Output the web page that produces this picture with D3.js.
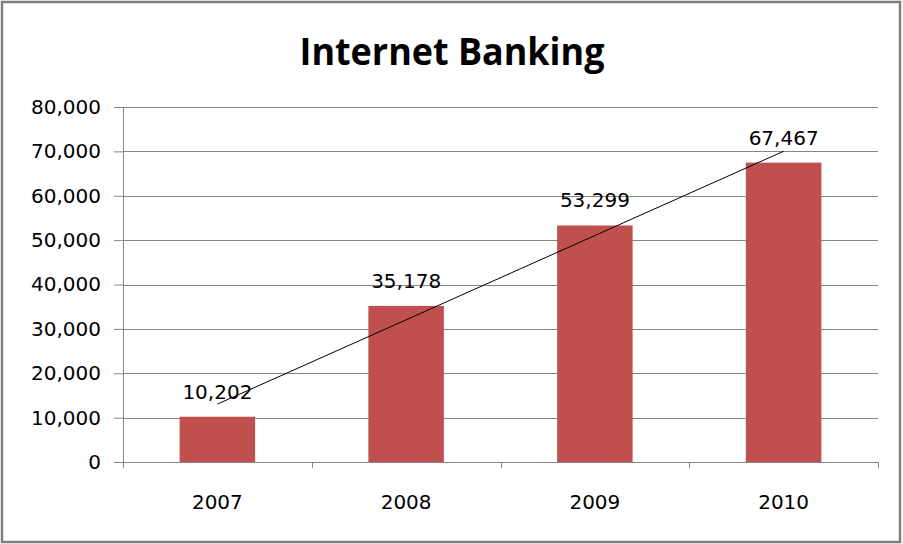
<!DOCTYPE html>
<html>
<head>
<meta charset="utf-8">
<script src="https://cdn.jsdelivr.net/npm/d3@7"></script>
<style>
  html, body { margin: 0; padding: 0; background: #fff; }
  svg { display: block; }
</style>
</head>
<body>
<div id="chart"></div>
<script>
// chart data
const years = ["2007", "2008", "2009", "2010"];
const users = [10202, 35178, 53299, 67467];
const yTicks = [0, 10000, 20000, 30000, 40000, 50000, 60000, 70000, 80000];
const chartTitle = "Internet Banking";

const width = 903, height = 544;
const margin = { top: 107, right: 25, bottom: 82, left: 123 };
const innerW = width - margin.left - margin.right;
const innerH = height - margin.top - margin.bottom;

const svg = d3.select("#chart").append("svg")
    .attr("width", width)
    .attr("height", height);

// outer frame
svg.append("rect")
    .attr("x", 2).attr("y", 2)
    .attr("width", width - 5).attr("height", height - 4)
    .attr("fill", "#fff")
    .attr("stroke", "#808080")
    .attr("stroke-width", 2.5);

svg.append("text")
    .attr("x", 452).attr("y", 65)
    .attr("text-anchor", "middle")
    .attr("textLength", 305)
    .attr("lengthAdjust", "spacingAndGlyphs")
    .style("font-family", "'Open Sans', sans-serif")
    .style("font-weight", "bold")
    .style("font-size", "38px")
    .attr("fill", "#000")
    .text(chartTitle);

const g = svg.append("g").attr("transform", `translate(${margin.left},${margin.top})`);

const x = d3.scaleBand().domain(years).range([0, innerW]).paddingInner(0.6).paddingOuter(0.3);
const xBand = d3.scaleBand().domain(years).range([0, innerW]);
const y = d3.scaleLinear().domain([0, 80000]).range([innerH, 0]);

const gridColor = "#868686";
const fmt = d3.format(",");
const labelFont = "'DejaVu Sans', Verdana, sans-serif";

// gridlines
g.append("g")
    .selectAll("line")
    .data(yTicks.filter(d => d > 0))
    .join("line")
    .attr("x1", 0).attr("x2", innerW)
    .attr("y1", d => Math.round(y(d)) + 0.5).attr("y2", d => Math.round(y(d)) + 0.5)
    .attr("stroke", gridColor);

// y axis
const yAxis = g.append("g")
    .call(d3.axisLeft(y).tickValues(yTicks).tickFormat(fmt).tickSize(9).tickPadding(13));
yAxis.select(".domain").attr("stroke", gridColor);
yAxis.selectAll(".tick line").attr("stroke", gridColor);
yAxis.selectAll("text")
    .style("font-family", labelFont).style("font-size", "20px").attr("fill", "#000");

// x axis
const xAxis = g.append("g").attr("transform", `translate(0,${innerH})`);
xAxis.append("line")
    .attr("x1", 0).attr("x2", innerW)
    .attr("y1", 0.5).attr("y2", 0.5)
    .attr("stroke", gridColor);
xAxis.selectAll(".sep")
    .data(d3.range(years.length + 1))
    .join("line")
    .attr("class", "sep")
    .attr("x1", i => Math.round(i * xBand.step()) + 0.5)
    .attr("x2", i => Math.round(i * xBand.step()) + 0.5)
    .attr("y1", 0).attr("y2", 6)
    .attr("stroke", gridColor);
xAxis.selectAll(".lbl")
    .data(years)
    .join("text")
    .attr("class", "lbl")
    .attr("x", d => xBand(d) + xBand.bandwidth() / 2)
    .attr("y", 47)
    .attr("text-anchor", "middle")
    .style("font-family", labelFont).style("font-size", "20px")
    .text(d => d);

// bars
g.selectAll(".bar")
    .data(years)
    .join("rect")
    .attr("class", "bar")
    .attr("x", d => x(d))
    .attr("y", (d, i) => y(users[i]))
    .attr("width", x.bandwidth())
    .attr("height", (d, i) => innerH - y(users[i]))
    .attr("fill", "#C0504D");

// value labels
g.selectAll(".val")
    .data(years)
    .join("text")
    .attr("class", "val")
    .attr("x", d => x(d) + x.bandwidth() / 2)
    .attr("y", (d, i) => y(users[i]) - 18)
    .attr("text-anchor", "middle")
    .style("font-family", labelFont).style("font-size", "20px")
    .text((d, i) => fmt(users[i]));

// linear trendline (least squares)
const xs = years.map((d, i) => i + 1);
const mx = d3.mean(xs), my = d3.mean(users);
const slope = d3.sum(xs, (v, i) => (v - mx) * (users[i] - my)) / d3.sum(xs, v => (v - mx) ** 2);
const icpt = my - slope * mx;
const trend = [xs[0], xs[xs.length - 1]].map(v => [
    xBand(years[v - 1]) + xBand.bandwidth() / 2,
    y(icpt + slope * v)
]);
g.append("path")
    .attr("d", d3.line()(trend))
    .attr("fill", "none")
    .attr("stroke", "#000")
    .attr("stroke-width", 1);
</script>
</body>
</html>
